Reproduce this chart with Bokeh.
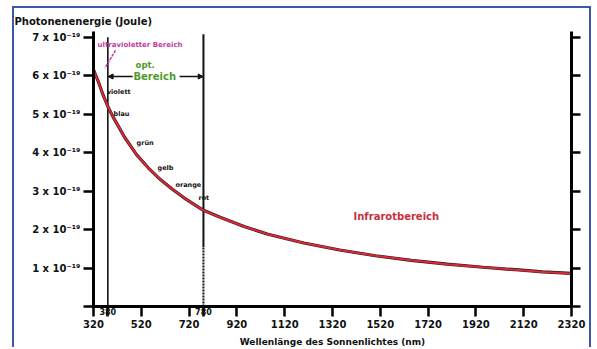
from bokeh.plotting import figure
from bokeh.models import Range1d, LinearAxis, FixedTicker, Arrow, NormalHead
from bokeh.core.properties import value
from bokeh.embed import file_html
from bokeh.resources import INLINE

# ---- data ----
wavelength_nm = [320, 340, 360, 380, 400, 450, 500, 550, 600, 650, 700, 780,
                 850, 950, 1050, 1200, 1350, 1500, 1650, 1800, 1950, 2100, 2200, 2320]
energy_e19 = [6.15, 5.85, 5.5, 5.2, 4.95, 4.4, 3.95, 3.6, 3.3, 3.05, 2.82, 2.5,
              2.32, 2.08, 1.88, 1.65, 1.47, 1.32, 1.2, 1.1, 1.02, 0.95, 0.9, 0.86]

x_ticks = [320, 520, 720, 920, 1120, 1320, 1520, 1720, 1920, 2120, 2320]
x_marks = [380, 780]
y_ticks = [1, 2, 3, 4, 5, 6, 7]
y_tick_labels = ["1 x 10⁻¹⁹", "2 x 10⁻¹⁹", "3 x 10⁻¹⁹", "4 x 10⁻¹⁹",
                 "5 x 10⁻¹⁹", "6 x 10⁻¹⁹", "7 x 10⁻¹⁹"]

color_names = ["violett", "blau", "grün", "gelb", "orange", "rot"]
color_name_wl = [376, 404, 500, 588, 663, 759]
color_name_e = [5.59, 5.0, 4.24, 3.59, 3.17, 2.81]

FONT = "DejaVu Sans"
BLUE = "#3d58a8"

p = figure(width=579, height=341, x_range=Range1d(320, 2320), y_range=Range1d(0, 7.15),
           output_backend="svg", toolbar_location=None,
           x_axis_type=None, y_axis_type=None,
           min_border_left=79, min_border_right=22, min_border_top=23, min_border_bottom=10)
p.margin = (6, 0, 0, 12)
p.styles = {"border-top": f"2px solid {BLUE}", "border-left": f"2px solid {BLUE}",
            "border-right": f"2px solid {BLUE}"}
p.grid.visible = False
p.outline_line_color = None
p.background_fill_color = "white"
p.border_fill_color = "white"

p.title.text = "Photonenenergie (Joule)"
p.title.align = "left"
p.title.offset = -79
p.title.text_font = FONT
p.title.text_font_size = "10px"
p.title.text_font_style = "bold"
p.title.text_color = "#111111"

# inner x axis: all ticks, labels only at 380 / 780
ov_in = {t: "" for t in x_ticks}
ov_in.update({380: "380", 780: "780"})
ax_in = LinearAxis(ticker=FixedTicker(ticks=x_ticks + x_marks), major_label_overrides=ov_in,
                   major_tick_out=10, major_tick_in=0, minor_tick_out=0, minor_tick_in=0,
                   major_label_standoff=-9, axis_line_width=3, major_tick_line_width=2.5,
                   major_label_text_font=FONT, major_label_text_font_size="8px",
                   major_label_text_font_style="bold", major_label_text_color="#111111")
p.add_layout(ax_in, "below")

ax_out = LinearAxis(ticker=FixedTicker(ticks=x_ticks), axis_line_color=None,
                    major_tick_line_color=None, minor_tick_line_color=None,
                    major_tick_out=0, major_tick_in=0, minor_tick_out=0, minor_tick_in=0,
                    major_label_standoff=2,
                    major_label_text_font=FONT, major_label_text_font_size="10px",
                    major_label_text_font_style="bold", major_label_text_color="#111111",
                    axis_label="Wellenlänge des Sonnenlichtes (nm)",
                    axis_label_standoff=6, axis_label_text_font=FONT,
                    axis_label_text_font_size="9px", axis_label_text_font_style="bold",
                    axis_label_text_color="#111111")
p.add_layout(ax_out, "below")

ov_y = {0: ""}
ov_y.update({t: lab for t, lab in zip(y_ticks, y_tick_labels)})
ay = LinearAxis(ticker=FixedTicker(ticks=[0] + y_ticks), major_label_overrides=ov_y,
                major_tick_out=10, major_tick_in=0, minor_tick_out=0, minor_tick_in=0,
                major_label_standoff=3, axis_line_width=3, major_tick_line_width=2.5,
                major_label_text_font=FONT, major_label_text_font_size="10px",
                major_label_text_font_style="bold", major_label_text_color="#111111")
p.add_layout(ay, "left")

ay_r = LinearAxis(ticker=FixedTicker(ticks=[0] + y_ticks),
                  major_label_overrides={t: "" for t in [0] + y_ticks},
                  major_tick_out=9, major_tick_in=0, minor_tick_out=0, minor_tick_in=0,
                  major_label_standoff=0, axis_line_width=3, major_tick_line_width=2.5,
                  major_label_text_font_size="1px")
p.add_layout(ay_r, "right")

# boundary lines of the visible range
p.segment(x0=[380], y0=[0], x1=[380], y1=[7.0], line_color="#111111", line_width=1.6)
p.segment(x0=[780], y0=[1.55], x1=[780], y1=[7.08], line_color="#111111", line_width=2)
p.segment(x0=[780], y0=[0], x1=[780], y1=[1.55], line_color="#111111", line_width=2,
          line_dash="2 1")

# photon energy curve
p.line(wavelength_nm, energy_e19, line_color="#3a1a1a", line_width=3.2)
p.line(wavelength_nm, energy_e19, line_color="#d42a3a", line_width=2)

# UV label + pointer
p.text(x=[337], y=[6.80], text=["ultravioletter Bereich"], text_font=value(FONT),
       text_font_size="7px", text_font_style="bold", text_color="#c23aa8",
       text_baseline="middle", text_align="left")
p.segment(x0=[412], y0=[6.66], x1=[368], y1=[6.2], line_color="#c23aa8",
          line_width=1.5, line_dash="3 1")

# optical range label + arrows
p.text(x=[496], y=[6.27], text=["opt."], text_font=value(FONT),
       text_font_size="8.5px", text_font_style="bold", text_color="#4f9a2e",
       text_baseline="middle", text_align="left")
p.text(x=[487], y=[5.98], text=["Bereich"], text_font=value(FONT),
       text_font_size="10px", text_font_style="bold", text_color="#4f9a2e",
       text_baseline="middle", text_align="left")
p.add_layout(Arrow(end=NormalHead(size=5, fill_color="#111111", line_color="#111111"),
                   x_start=484, y_start=5.98, x_end=381, y_end=5.98,
                   line_color="#111111", line_width=1.5))
p.add_layout(Arrow(end=NormalHead(size=5, fill_color="#111111", line_color="#111111"),
                   x_start=680, y_start=5.98, x_end=779, y_end=5.98,
                   line_color="#111111", line_width=1.5))

# colour names along the curve
p.text(x=color_name_wl, y=color_name_e, text=color_names, text_font=value(FONT),
       text_font_size="6.5px", text_font_style="bold", text_color="#111111",
       text_baseline="middle", text_align="left")

# infrared label
p.text(x=[1408], y=[2.34], text=["Infrarotbereich"], text_font=value(FONT),
       text_font_size="10px", text_font_style="bold", text_color="#c8303e",
       text_baseline="middle", text_align="left")

open("out.html", "w").write(file_html(p, INLINE))
